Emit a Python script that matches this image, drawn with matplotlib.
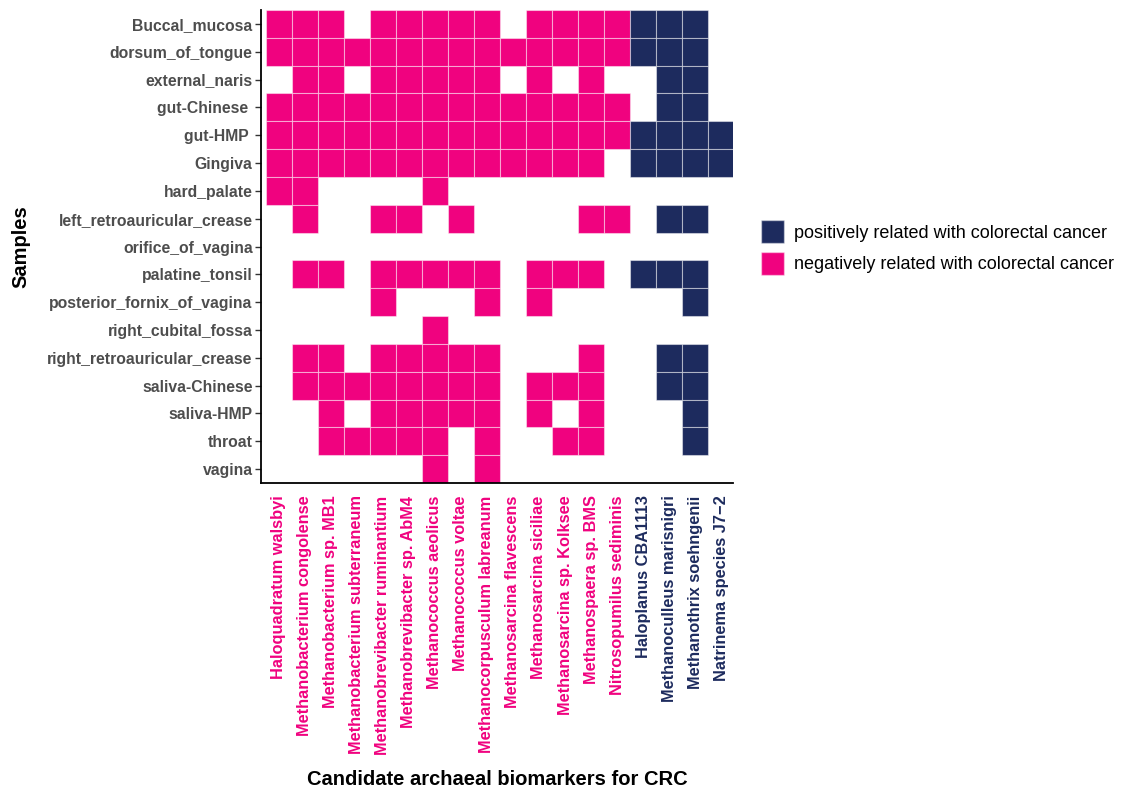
import numpy as np
import matplotlib
matplotlib.use("Agg")
import matplotlib.pyplot as plt
from matplotlib.patches import Rectangle, Patch

plt.rcParams['font.family'] = ['Liberation Sans', 'DejaVu Sans']

samples = ["Buccal_mucosa", "dorsum_of_tongue", "external_naris", "gut-Chinese ",
           "gut-HMP ", "Gingiva", "hard_palate", "left_retroauricular_crease",
           "orifice_of_vagina", "palatine_tonsil", "posterior_fornix_of_vagina",
           "right_cubital_fossa", "right_retroauricular_crease", "saliva-Chinese",
           "saliva-HMP", "throat", "vagina"]

markers = ["Haloquadratum walsbyi", "Methanobacterium congolense",
           "Methanobacterium sp. MB1", "Methanobacterium subterraneum",
           "Methanobrevibacter ruminantium", "Methanobrevibacter sp. AbM4",
           "Methanococcus aeolicus", "Methanococcus voltae",
           "Methanocorpusculum labreanum", "Methanosarcina flavescens",
           "Methanosarcina siciliae", "Methanosarcina sp. Kolksee",
           "Methanospaera sp. BMS", "Nitrosopumilus sediminis",
           "Haloplanus CBA1113", "Methanoculleus marisnigri",
           "Methanothrix soehngenii", "Natrinema species J7\u22122"]

# 1 = negatively related, 2 = positively related (per marker)
direction = [1] * 14 + [2] * 4

presence = [
    "111011111011111110",  # Buccal_mucosa
    "111111111111111110",  # dorsum_of_tongue
    "011011111010100110",  # external_naris
    "111111111111110110",  # gut-Chinese
    "111111111111111111",  # gut-HMP
    "111111111111101111",  # Gingiva
    "110000100000000000",  # hard_palate
    "010011010000110110",  # left_retroauricular_crease
    "000000000000000000",  # orifice_of_vagina
    "011011111011101110",  # palatine_tonsil
    "000010001010000010",  # posterior_fornix_of_vagina
    "000000100000000000",  # right_cubital_fossa
    "011011111000100110",  # right_retroauricular_crease
    "011111111011100110",  # saliva-Chinese
    "001011111010100010",  # saliva-HMP
    "001111101001100010",  # throat
    "000000101000000000",  # vagina
]

pos_color = "#1D2B5E"
neg_color = "#F0027F"
legend_labels = ["positively related with colorectal cancer",
                 "negatively related with colorectal cancer"]

fig = plt.figure(figsize=(11.27, 7.92), dpi=100)
ax = fig.add_axes([261 / 1127, 1 - 483 / 792, (733 - 261) / 1127, (483 - 10) / 792])

for i, row in enumerate(presence):
    for j, ch in enumerate(row):
        if ch == "1":
            col = pos_color if direction[j] == 2 else neg_color
            ax.add_patch(Rectangle((j - 0.5, i - 0.5), 1, 1, facecolor=col,
                                   edgecolor=(1, 1, 1, 0.45), linewidth=0.8))

ax.set_xlim(-0.69, len(markers) - 0.54)
ax.set_ylim(len(samples) - 0.5, -0.5)

ax.set_yticks(range(len(samples)))
ax.set_yticklabels(samples, fontsize=11.3, fontweight='bold', color='#4D4D4D')
ax.set_xticks(range(len(markers)))
ax.set_xticklabels(markers, rotation=90, fontsize=11.8, fontweight='bold')
for lab, d in zip(ax.get_xticklabels(), direction):
    lab.set_color(pos_color if d == 2 else neg_color)

ax.spines['top'].set_visible(False)
ax.spines['right'].set_visible(False)
ax.spines['left'].set_linewidth(1.3)
ax.spines['bottom'].set_linewidth(1.3)
ax.tick_params(axis='y', length=4, width=1.0, color='#333333', pad=2)
ax.tick_params(axis='x', length=0, pad=9)

ax.set_ylabel("Samples", fontsize=14.5, fontweight='bold', labelpad=12)
ax.set_xlabel("Candidate archaeal biomarkers for CRC", fontsize=14.5,
              fontweight='bold', labelpad=11)

handles = [Patch(facecolor=pos_color, edgecolor=(1, 1, 1, 0.45)),
           Patch(facecolor=neg_color, edgecolor=(1, 1, 1, 0.45))]
fig.legend(handles, legend_labels, loc='upper left',
           bbox_to_anchor=(745 / 1127, 1 - 204 / 792), frameon=False,
           fontsize=13, handlelength=1.25, handleheight=1.6,
           handletextpad=0.55, labelspacing=0.45)

fig.savefig("out.png", dpi=100)
